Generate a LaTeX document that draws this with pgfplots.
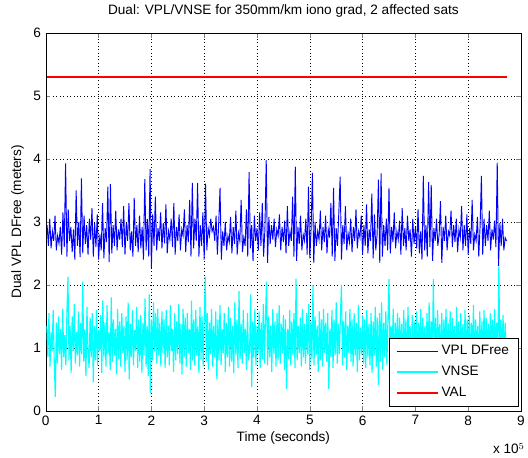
\documentclass[border=0pt]{standalone}
\usepackage{pgfplots}
\pgfplotsset{compat=1.18}
\usepackage{fontspec}
\setmainfont{Liberation Sans}
\definecolor{mblue}{rgb}{0,0,1}
\definecolor{mcyan}{rgb}{0,1,1}
\definecolor{mred}{rgb}{1,0,0}

\begin{document}
\fontsize{10.2}{12}\selectfont
\begin{tikzpicture}
\begin{axis}[
    name=ax,
    scale only axis,
    width=356pt, height=283pt,
    xmin=0, xmax=9, ymin=0, ymax=6,
    xtick={0,1,...,9}, ytick={0,1,...,6},
    tick align=inside, major tick length=3.5pt,
    grid=major,
    grid style={color=black, line width=0.4pt, dash pattern=on 0.6pt off 2pt},
    /pgf/number format/assume math mode=true,
    title={Dual: VPL/VNSE for 350mm/km iono grad, 2 affected sats},
    title style={yshift=2pt},
    xlabel={Time (seconds)},
    xlabel style={yshift=2pt},
    ylabel={Dual VPL DFree (meters)},
    legend cell align=left,
    legend style={at={(0.995,0.012)}, anchor=south east, draw=black,
        row sep=3pt, inner xsep=5pt, inner ysep=3.5pt},
    legend image code/.code={\draw[#1, line width=1pt] (0pt,0pt) -- (31pt,0pt);},
]
% VPL DFree
\addplot[color=mblue, line width=0.7pt] coordinates {
(0.025,2.95)(0.05,2.62)(0.075,3.05)(0.1,2.58)(0.125,2.85)(0.15,2.70)(0.175,3.10)(0.2,2.55)(0.225,2.78)(0.25,2.66)
(0.275,2.92)(0.3,2.48)(0.325,3.15)(0.35,2.60)(0.375,3.93)(0.4,2.45)(0.425,3.20)(0.45,2.70)(0.475,2.92)(0.5,2.52)
(0.525,2.88)(0.55,2.40)(0.575,3.50)(0.6,2.62)(0.625,3.00)(0.65,2.44)(0.675,3.69)(0.7,2.50)(0.725,3.10)(0.75,2.65)
(0.775,2.95)(0.8,2.48)(0.825,3.05)(0.85,2.72)(0.875,3.22)(0.9,2.45)(0.925,2.98)(0.95,2.60)(0.975,3.12)(1.0,2.40)
(1.025,2.80)(1.05,2.55)(1.075,3.30)(1.1,2.42)(1.125,2.90)(1.15,2.68)(1.175,3.56)(1.2,2.36)(1.225,3.60)(1.25,2.50)
(1.275,2.95)(1.3,2.62)(1.325,3.18)(1.35,2.55)(1.375,2.88)(1.4,2.72)(1.425,3.05)(1.45,2.60)(1.475,3.25)(1.5,2.48)
(1.525,2.98)(1.55,2.70)(1.575,3.30)(1.6,2.55)(1.625,2.85)(1.65,2.45)(1.675,3.38)(1.7,2.62)(1.725,2.95)(1.75,2.52)
(1.775,3.10)(1.8,2.58)(1.825,2.92)(1.85,2.40)(1.875,3.68)(1.9,2.55)(1.925,3.05)(1.95,2.45)(1.975,3.84)(2.0,2.26)
(2.025,3.12)(2.05,2.62)(2.075,3.40)(2.1,2.55)(2.125,2.90)(2.15,2.70)(2.175,3.15)(2.2,2.58)(2.225,2.98)(2.25,2.66)
(2.275,3.28)(2.3,2.50)(2.325,2.85)(2.35,2.72)(2.375,3.05)(2.4,2.60)(2.425,3.30)(2.45,2.48)(2.475,2.92)(2.5,2.70)
(2.525,3.12)(2.55,2.55)(2.575,2.88)(2.6,2.78)(2.625,3.20)(2.65,2.52)(2.675,2.95)(2.7,2.68)(2.725,3.35)(2.75,2.45)
(2.775,3.62)(2.8,2.58)(2.825,3.05)(2.85,2.70)(2.875,3.62)(2.9,2.45)(2.925,2.95)(2.95,2.62)(2.975,3.15)(3.0,2.40)
(3.025,3.61)(3.05,2.55)(3.075,2.90)(3.1,2.78)(3.125,3.05)(3.15,2.85)(3.175,2.92)(3.2,2.70)(3.225,3.10)(3.25,2.48)
(3.275,2.98)(3.3,3.54)(3.325,2.40)(3.35,2.85)(3.375,2.62)(3.4,3.00)(3.425,2.55)(3.45,2.78)(3.475,2.68)(3.5,3.08)
(3.525,2.50)(3.55,2.92)(3.575,2.65)(3.6,3.18)(3.625,2.48)(3.65,2.82)(3.675,2.70)(3.7,3.35)(3.725,2.52)(3.75,2.75)
(3.775,2.62)(3.8,3.20)(3.825,2.45)(3.85,3.79)(3.875,2.58)(3.9,2.95)(3.925,2.38)(3.95,3.10)(3.975,2.70)(4.0,2.90)
(4.025,2.55)(4.05,3.15)(4.075,2.62)(4.1,3.30)(4.125,2.45)(4.15,2.88)(4.175,3.98)(4.2,2.35)(4.225,3.08)(4.25,2.65)
(4.275,2.95)(4.3,2.72)(4.325,3.05)(4.35,2.60)(4.375,2.88)(4.4,2.78)(4.425,3.12)(4.45,2.55)(4.475,2.92)(4.5,2.68)
(4.525,3.02)(4.55,2.50)(4.575,3.25)(4.6,2.62)(4.625,2.85)(4.65,2.70)(4.675,3.40)(4.7,2.45)(4.725,3.88)(4.75,2.38)
(4.775,2.92)(4.8,2.65)(4.825,3.10)(4.85,2.55)(4.875,2.80)(4.9,2.70)(4.925,3.05)(4.95,2.48)(4.975,3.56)(5.0,2.42)
(5.025,2.90)(5.05,3.78)(5.075,2.35)(5.1,3.00)(5.125,2.62)(5.15,2.85)(5.175,2.72)(5.2,3.18)(5.225,2.55)(5.25,2.92)
(5.275,2.68)(5.3,3.10)(5.325,2.50)(5.35,2.88)(5.375,2.75)(5.4,3.30)(5.425,2.45)(5.45,3.54)(5.475,2.38)(5.5,2.90)
(5.525,2.62)(5.55,3.15)(5.575,3.72)(5.6,2.40)(5.625,2.95)(5.65,2.65)(5.675,3.25)(5.7,2.55)(5.725,2.82)(5.75,2.68)
(5.775,3.05)(5.8,2.52)(5.825,2.92)(5.85,2.70)(5.875,3.20)(5.9,2.58)(5.925,2.85)(5.95,2.75)(5.975,3.10)(6.0,2.48)
(6.025,2.95)(6.05,2.62)(6.075,3.28)(6.1,2.50)(6.125,2.88)(6.15,2.70)(6.175,3.45)(6.2,2.42)(6.225,3.12)(6.25,2.55)
(6.275,2.80)(6.3,3.67)(6.325,2.35)(6.35,3.77)(6.375,2.45)(6.4,2.95)(6.425,2.62)(6.45,3.05)(6.475,2.55)(6.5,3.54)
(6.525,2.50)(6.55,2.92)(6.575,2.68)(6.6,3.15)(6.625,2.58)(6.65,2.85)(6.675,2.72)(6.7,3.02)(6.725,2.48)(6.75,3.22)
(6.775,2.62)(6.8,2.90)(6.825,2.55)(6.85,3.10)(6.875,2.70)(6.9,2.88)(6.925,2.45)(6.95,3.05)(6.975,2.65)(7.0,2.92)
(7.025,2.58)(7.05,3.20)(7.075,2.50)(7.1,2.85)(7.125,2.40)(7.15,3.73)(7.175,2.55)(7.2,2.95)(7.225,2.45)(7.25,3.63)
(7.275,2.60)(7.3,3.59)(7.325,2.38)(7.35,2.90)(7.375,2.70)(7.4,3.05)(7.425,2.62)(7.45,2.80)(7.475,3.33)(7.5,2.35)
(7.525,2.92)(7.55,2.70)(7.575,3.10)(7.6,2.55)(7.625,2.85)(7.65,2.78)(7.675,3.18)(7.7,2.60)(7.725,2.95)(7.75,2.68)
(7.775,3.05)(7.8,2.52)(7.825,2.88)(7.85,2.75)(7.875,3.25)(7.9,2.55)(7.925,2.95)(7.95,2.62)(7.975,3.12)(8.0,2.48)
(8.025,2.90)(8.05,2.65)(8.075,3.35)(8.1,2.55)(8.125,2.80)(8.15,2.70)(8.175,3.08)(8.2,2.45)(8.225,2.92)(8.25,3.73)
(8.275,2.48)(8.3,3.05)(8.325,2.62)(8.35,2.95)(8.375,2.70)(8.4,3.18)(8.425,2.55)(8.45,2.88)(8.475,2.72)(8.5,3.02)
(8.525,2.60)(8.55,3.94)(8.575,2.30)(8.6,2.98)(8.625,2.62)(8.65,3.05)(8.675,2.55)(8.7,2.75)(8.725,2.70)
};
\addlegendentry{VPL DFree}
% VNSE
\addplot[color=mcyan, line width=0.85pt] coordinates {
(0.02,1.35)(0.04,0.85)(0.06,1.55)(0.08,0.70)(0.10,1.25)(0.12,0.95)(0.14,1.60)(0.16,0.80)(0.18,0.22)(0.20,1.40)
(0.22,0.75)(0.24,1.50)(0.26,0.90)(0.28,1.30)(0.30,0.65)(0.32,1.62)(0.34,0.85)(0.36,1.20)(0.38,0.72)(0.40,1.55)
(0.42,2.13)(0.44,0.80)(0.46,1.35)(0.48,0.60)(0.50,1.50)(0.52,0.95)(0.54,1.70)(0.56,0.75)(0.58,1.25)(0.60,0.88)
(0.62,1.58)(0.64,0.70)(0.66,1.40)(0.68,0.90)(0.70,2.05)(0.72,0.78)(0.74,1.30)(0.76,0.55)(0.78,1.65)(0.80,0.92)
(0.82,0.68)(0.84,1.48)(0.86,0.85)(0.88,1.55)(0.90,0.45)(0.92,1.35)(0.94,0.80)(0.96,1.60)(0.98,0.72)(1.00,1.28)
(1.02,0.95)(1.04,1.52)(1.06,0.60)(1.08,1.75)(1.10,0.85)(1.12,1.40)(1.14,0.70)(1.16,1.68)(1.18,0.90)(1.20,1.25)
(1.22,0.65)(1.24,1.80)(1.26,0.78)(1.28,1.45)(1.30,0.88)(1.32,1.30)(1.34,0.58)(1.36,1.62)(1.38,0.82)(1.40,1.42)
(1.42,0.70)(1.44,1.55)(1.46,0.92)(1.48,1.35)(1.50,0.62)(1.52,1.50)(1.54,0.80)(1.56,1.72)(1.58,0.50)(1.60,1.38)
(1.62,0.85)(1.64,1.60)(1.66,0.72)(1.68,1.28)(1.70,0.95)(1.72,1.65)(1.74,0.68)(1.76,1.45)(1.78,0.78)(1.80,1.52)
(1.82,0.60)(1.84,1.40)(1.86,0.88)(1.88,1.78)(1.90,0.70)(1.92,1.35)(1.94,0.55)(1.96,1.85)(1.98,0.28)(2.00,1.45)
(2.02,0.80)(2.04,1.72)(2.06,0.95)(2.08,1.55)(2.10,0.75)(2.12,1.62)(2.14,0.88)(2.16,1.40)(2.18,0.70)(2.20,1.58)
(2.22,0.92)(2.24,1.45)(2.26,0.68)(2.28,1.60)(2.30,0.85)(2.32,1.35)(2.34,0.72)(2.36,1.68)(2.38,0.95)(2.40,1.30)
(2.42,0.62)(2.44,1.55)(2.46,0.80)(2.48,1.42)(2.50,0.90)(2.52,1.70)(2.54,0.75)(2.56,1.38)(2.58,0.58)(2.60,1.62)
(2.62,0.85)(2.64,1.48)(2.66,0.70)(2.68,1.55)(2.70,0.92)(2.72,1.30)(2.74,0.65)(2.76,1.75)(2.78,0.80)(2.80,1.45)
(2.82,0.72)(2.84,1.60)(2.86,0.88)(2.88,1.35)(2.90,0.60)(2.92,1.65)(2.94,0.82)(2.96,1.50)(2.98,0.70)(3.00,1.42)
(3.02,2.13)(3.04,0.78)(3.06,1.55)(3.08,0.65)(3.10,1.40)(3.12,0.90)(3.14,1.62)(3.16,0.70)(3.18,1.35)(3.20,0.85)
(3.22,1.58)(3.24,0.50)(3.26,1.45)(3.28,0.80)(3.30,1.68)(3.32,0.72)(3.34,1.30)(3.36,0.92)(3.38,1.55)(3.40,0.62)
(3.42,1.40)(3.44,0.85)(3.46,1.65)(3.48,0.70)(3.50,1.48)(3.52,0.78)(3.54,1.35)(3.56,0.60)(3.58,1.72)(3.60,0.88)
(3.62,1.45)(3.64,0.68)(3.66,1.90)(3.68,0.82)(3.70,1.38)(3.72,0.75)(3.74,1.60)(3.76,0.92)(3.78,1.30)(3.80,0.65)
(3.82,1.55)(3.84,0.80)(3.86,0.95)(3.88,1.85)(3.90,0.38)(3.92,1.42)(3.94,0.85)(3.96,1.62)(3.98,0.72)(4.00,1.35)
(4.02,0.90)(4.04,1.58)(4.06,0.68)(4.08,1.40)(4.10,0.82)(4.12,1.70)(4.14,0.75)(4.16,1.45)(4.18,2.05)(4.20,0.72)
(4.22,1.50)(4.24,0.85)(4.26,1.35)(4.28,0.62)(4.30,1.62)(4.32,0.90)(4.34,1.42)(4.36,0.70)(4.38,1.55)(4.40,0.80)
(4.42,1.68)(4.44,0.75)(4.46,1.38)(4.48,0.92)(4.50,1.52)(4.52,0.65)(4.54,1.45)(4.56,0.35)(4.58,1.30)(4.60,0.82)
(4.62,1.60)(4.64,0.72)(4.66,1.42)(4.68,0.88)(4.70,1.55)(4.72,0.68)(4.74,2.10)(4.76,0.80)(4.78,1.35)(4.80,0.92)
(4.82,1.48)(4.84,0.70)(4.86,1.62)(4.88,0.85)(4.90,1.38)(4.92,0.75)(4.94,1.55)(4.96,0.90)(4.98,1.70)(5.00,0.65)
(5.02,1.42)(5.04,0.82)(5.06,2.00)(5.08,0.72)(5.10,1.50)(5.12,0.88)(5.14,1.35)(5.16,0.62)(5.18,1.58)(5.20,0.80)
(5.22,1.45)(5.24,0.70)(5.26,1.62)(5.28,0.92)(5.30,1.40)(5.32,0.78)(5.34,1.55)(5.36,0.35)(5.38,1.30)(5.40,0.85)
(5.42,1.60)(5.44,0.68)(5.46,1.45)(5.48,0.88)(5.50,1.72)(5.52,0.75)(5.54,1.38)(5.56,0.90)(5.58,1.50)(5.60,2.00)
(5.62,0.72)(5.64,1.42)(5.66,0.85)(5.68,1.58)(5.70,0.65)(5.72,1.35)(5.74,0.92)(5.76,1.62)(5.78,0.78)(5.80,1.45)
(5.82,0.70)(5.84,1.55)(5.86,0.88)(5.88,1.40)(5.90,0.62)(5.92,1.68)(5.94,0.80)(5.96,1.32)(5.98,0.90)(6.00,1.52)
(6.02,0.75)(6.04,1.45)(6.06,0.68)(6.08,1.60)(6.10,0.85)(6.12,1.38)(6.14,0.72)(6.16,1.55)(6.18,0.60)(6.20,1.42)
(6.22,0.88)(6.24,1.65)(6.26,0.70)(6.28,1.48)(6.30,0.41)(6.32,1.55)(6.34,0.78)(6.36,1.72)(6.38,0.65)(6.40,1.40)
(6.42,0.85)(6.44,1.58)(6.46,0.72)(6.48,1.45)(6.50,2.09)(6.52,0.80)(6.54,1.35)(6.56,0.92)(6.58,1.62)(6.60,0.70)
(6.62,1.40)(6.64,0.85)(6.66,1.55)(6.68,0.68)(6.70,1.48)(6.72,0.90)(6.74,1.38)(6.76,0.75)(6.78,1.60)(6.80,0.82)
(6.82,1.45)(6.84,0.70)(6.86,1.65)(6.88,0.88)(6.90,1.35)(6.92,0.62)(6.94,1.52)(6.96,0.80)(6.98,1.42)(7.00,0.92)
(7.02,1.58)(7.04,0.75)(7.06,1.40)(7.08,0.85)(7.10,1.62)(7.12,0.70)(7.14,1.48)(7.16,0.90)(7.18,1.35)(7.20,0.78)
(7.22,1.55)(7.24,0.68)(7.26,1.72)(7.28,0.85)(7.30,1.42)(7.32,0.75)(7.34,2.09)(7.36,0.82)(7.38,1.48)(7.40,0.70)
(7.42,1.60)(7.44,0.88)(7.46,1.38)(7.48,0.72)(7.50,1.55)(7.52,0.80)(7.54,1.45)(7.56,0.92)(7.58,1.62)(7.60,0.75)
(7.62,1.40)(7.64,0.85)(7.66,1.58)(7.68,0.70)(7.70,1.48)(7.72,0.90)(7.74,1.35)(7.76,0.78)(7.78,1.65)(7.80,0.82)
(7.82,1.42)(7.84,0.72)(7.86,1.55)(7.88,0.88)(7.90,1.38)(7.92,0.80)(7.94,1.60)(7.96,0.75)(7.98,1.45)(8.00,0.92)
(8.02,1.52)(8.04,0.78)(8.06,1.40)(8.08,0.85)(8.10,1.68)(8.12,0.70)(8.14,1.45)(8.16,0.90)(8.18,1.35)(8.20,0.82)
(8.22,1.58)(8.24,0.75)(8.26,1.42)(8.28,0.88)(8.30,1.60)(8.32,0.72)(8.34,1.48)(8.36,0.85)(8.38,1.38)(8.40,0.80)
(8.42,1.55)(8.44,0.90)(8.46,1.45)(8.48,0.78)(8.50,1.62)(8.52,0.85)(8.54,1.40)(8.56,0.75)(8.58,2.29)(8.60,0.82)
(8.62,1.45)(8.64,0.88)(8.66,1.52)(8.68,0.80)(8.70,1.40)(8.72,0.85)
};
\addlegendentry{VNSE}
% VAL
\addplot[color=mred, line width=1pt] coordinates {(0.02,5.3)(8.73,5.3)};
\addlegendentry{VAL}
\end{axis}
\node[anchor=north east, inner sep=0pt] at ([xshift=3pt, yshift=-24pt]ax.south east) {x 10$^{5}$};
\pgfresetboundingbox
\path[use as bounding box] ([xshift=-34.3pt, yshift=-34.7pt]ax.south west)
    rectangle ([xshift=5.25pt, yshift=24.75pt]ax.north east);
\end{tikzpicture}
\end{document}
